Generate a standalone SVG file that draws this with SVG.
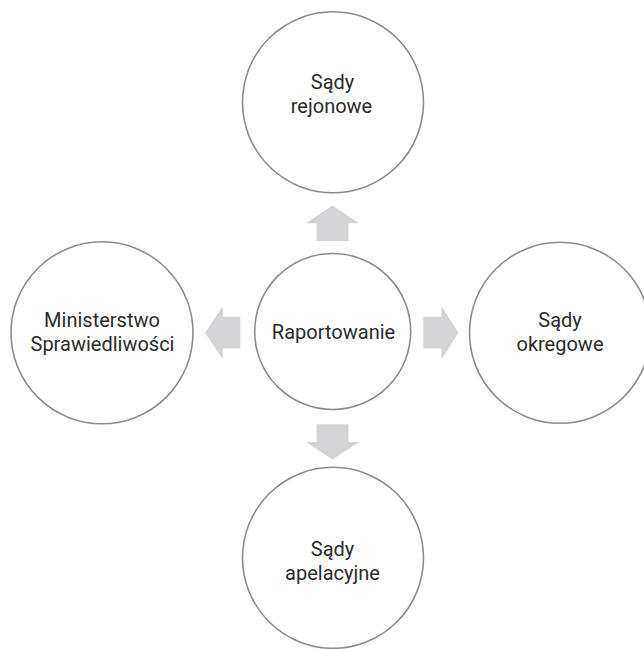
<svg xmlns="http://www.w3.org/2000/svg" width="644" height="649" viewBox="0 0 644 649">
<style>
.node circle{fill:#ffffff;stroke:#8c8c8c;stroke-width:1.6}
.node text{font-family:Roboto,"Noto Sans","Liberation Sans",sans-serif;font-size:20px;fill:#2b2b2b;text-anchor:middle}
.arrow{fill:#d4d4d6;stroke:none}
</style>
<rect width="644" height="649" fill="#ffffff"/>
<g id="connectors">
<polygon class="arrow" points="332.5,205.5 359,223.3 348.5,223.3 348.5,241 316.5,241 316.5,223.3 306,223.3"/>
<polygon class="arrow" points="332.5,459.5 359,442 348.5,442 348.5,424.3 316.5,424.3 316.5,442 306,442"/>
<polygon class="arrow" points="205,332.7 222.7,306.5 222.7,316.8 240.3,316.8 240.3,348.6 222.7,348.6 222.7,359 "/>
<polygon class="arrow" points="458.5,332.7 441.5,306.5 441.5,316.8 423.3,316.8 423.3,348.6 441.5,348.6 441.5,359"/>
</g>
<g id="node-rejonowe" class="node">
<circle cx="333" cy="102.3" r="90.5"/>
<text x="332.5" y="89">Sądy</text>
<text x="331.5" y="112.5">rejonowe</text>
</g>
<g id="node-raportowanie" class="node">
<circle cx="332.7" cy="331.5" r="78"/>
<text x="333.5" y="339.3">Raportowanie</text>
</g>
<g id="node-ministerstwo" class="node">
<circle cx="102" cy="332.8" r="91"/>
<text x="102" y="327">Ministerstwo</text>
<text x="102.5" y="350.5">Sprawiedliwości</text>
</g>
<g id="node-okregowe" class="node">
<circle cx="560" cy="332.8" r="90.5"/>
<text x="560" y="326.7">Sądy</text>
<text x="560" y="350.7">okregowe</text>
</g>
<g id="node-apelacyjne" class="node">
<circle cx="333" cy="557.8" r="90.5"/>
<text x="332.5" y="555.7">Sądy</text>
<text x="332.5" y="580">apelacyjne</text>
</g>
</svg>
